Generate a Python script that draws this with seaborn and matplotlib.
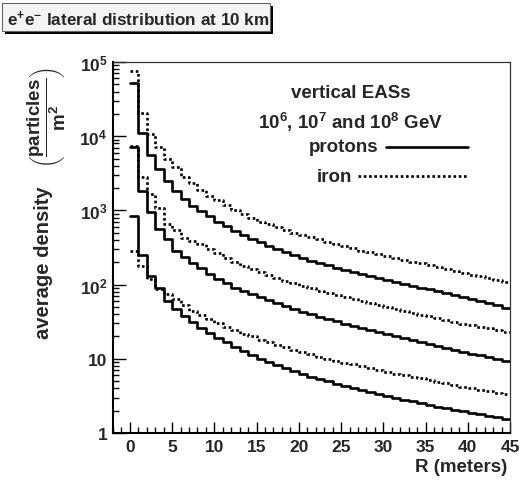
import numpy as np
import matplotlib
matplotlib.use("Agg")
import matplotlib.pyplot as plt
import seaborn as sns
from matplotlib.patches import Rectangle
from matplotlib.lines import Line2D
from matplotlib.ticker import MultipleLocator, FixedLocator, LogLocator, NullFormatter

# ---------------- data ----------------
r_edges = list(range(0, 46))  # 1 m bins, 0..45 m

proton_1e8 = [51600, 11000, 5620, 3630, 2455, 1820, 1413, 1148, 977, 832,
              708, 617, 525, 468, 417, 372, 331, 302, 275, 251,
              229, 209, 195, 182, 170, 158, 148, 138, 129, 122,
              115, 108, 102, 96.6, 91.2, 86.1, 81.3, 76.7, 72.4, 68.4,
              64.6, 61.0, 57.0, 53.0, 49.0]
iron_1e8 = [75000, 20400, 10700, 7080, 4900, 3800, 2820, 2340, 1905, 1585,
            1380, 1175, 1023, 891, 794, 708, 646, 589, 537, 501,
            468, 437, 407, 380, 355, 331, 309, 288, 272, 257,
            243, 229, 216, 204, 193, 182, 172, 162, 153, 145,
            136, 129, 122, 115, 108]
proton_1e7 = [7160, 1800, 944, 562, 412, 288, 237, 197, 168, 141,
              120, 105, 91.2, 81.3, 74.1, 67.6, 61.7, 56.2, 51.3, 46.8,
              43.2, 39.8, 36.7, 34.3, 32.0, 29.9, 27.9, 26.0, 24.5, 22.9,
              21.4, 20.0, 18.8, 17.8, 16.8, 15.7, 14.8, 14.0, 13.2, 12.4,
              11.7, 11.1, 10.5, 9.9, 9.4]
iron_1e7 = [7410, 2790, 1660, 1070, 661, 537, 427, 385, 355, 302,
            263, 229, 200, 178, 162, 148, 135, 123, 112, 105,
            96.6, 89.1, 83.2, 77.6, 72.4, 67.6, 63.1, 59.6, 56.2, 52.5,
            49.5, 46.8, 44.2, 41.7, 39.4, 37.2, 35.1, 33.1, 31.6, 29.9,
            28.2, 26.9, 25.7, 24.3, 23.2]
proton_1e6 = [851, 254, 132, 89.1, 61.0, 46.8, 38.0, 30.9, 26.3, 22.4,
              19.1, 16.6, 14.5, 12.6, 11.2, 10.0, 9.02, 8.13, 7.41, 6.76,
              6.24, 5.75, 5.31, 4.95, 4.62, 4.32, 4.03, 3.80, 3.55, 3.35,
              3.16, 2.99, 2.82, 2.66, 2.51, 2.40, 2.26, 2.16, 2.04, 1.95,
              1.86, 1.78, 1.70, 1.62, 1.55]
iron_1e6 = [282, 180, 120, 87.1, 74.1, 63.1, 52.5, 44.7, 38.9, 33.9,
            30.2, 26.9, 24.3, 21.9, 20.0, 18.2, 16.8, 15.5, 14.3, 13.2,
            12.3, 11.5, 10.7, 10.0, 9.44, 8.91, 8.41, 7.94, 7.50, 7.08,
            6.68, 6.31, 6.03, 5.69, 5.43, 5.13, 4.90, 4.68, 4.42, 4.22,
            4.03, 3.85, 3.67, 3.51, 3.35]

x_ticks = [0, 5, 10, 15, 20, 25, 30, 35, 40, 45]
y_ticks = [1, 10, 100, 1000, 10000, 100000]
y_tick_labels = ["1", "10", "$10^{2}$", "$10^{3}$", "$10^{4}$", "$10^{5}$"]

# ---------------- style ----------------
sns.set_style("ticks")
plt.rcParams.update({
    "font.family": ["Liberation Sans", "DejaVu Sans"],
    "font.weight": "bold",
    "mathtext.fontset": "custom",
    "mathtext.rm": "Liberation Sans:bold",
    "mathtext.bf": "Liberation Sans:bold",
    "mathtext.it": "Liberation Sans:bold",
    "mathtext.sf": "Liberation Sans:bold",
    "axes.unicode_minus": False,
})

W, H = 525, 489
fig = plt.figure(figsize=(W / 100, H / 100), dpi=100)
fig.patch.set_facecolor("white")

def fx(px):
    return px / W

def fy(py):
    return 1 - py / H

ax = fig.add_axes([fx(113), fy(434), fx(510) - fx(113), fy(63) - fy(434)])
ax.set_yscale("log")

centers = np.array(r_edges[:-1]) + 0.5
series = [
    (proton_1e8, "-"), (iron_1e8, (0, (1, 1))),
    (proton_1e7, "-"), (iron_1e7, (0, (1, 1))),
    (proton_1e6, "-"), (iron_1e6, (0, (1, 1))),
]
for vals, ls in series:
    sns.histplot(x=centers, weights=vals, bins=r_edges, element="step",
                 fill=False, color="black", linewidth=1.9 if ls == "-" else 1.9,
                 linestyle=ls, ax=ax)

ax.set_xlim(-2, 45)
ax.set_ylim(1, 1e5)
ax.set_ylabel("")
ax.set_xticks(x_ticks)
ax.set_xticklabels([str(t) for t in x_ticks], fontsize=12.5, fontweight="bold")
ax.xaxis.set_minor_locator(MultipleLocator(1))
ax.yaxis.set_major_locator(FixedLocator(y_ticks))
ax.set_yticklabels(y_tick_labels, fontsize=12.5, fontweight="bold")
ax.yaxis.set_minor_locator(LogLocator(base=10, subs=np.arange(2, 10)))
ax.yaxis.set_minor_formatter(NullFormatter())
ax.tick_params(axis="both", which="both", direction="in", top=False, right=False,
               color="black", width=1.0)
ax.tick_params(axis="x", which="major", length=8, pad=4)
ax.tick_params(axis="x", which="minor", length=4)
ax.tick_params(axis="y", which="major", length=9, pad=4)
ax.tick_params(axis="y", which="minor", length=4.5)

for side in ["left", "bottom"]:
    ax.spines[side].set_linewidth(1.5)
    ax.spines[side].set_color("black")
for side in ["top", "right"]:
    ax.spines[side].set_linewidth(0.9)
    ax.spines[side].set_color("#333333")
    ax.spines[side].set_visible(True)

ax.set_xlabel("R (meters)", fontsize=13.5, fontweight="bold", ha="right", va="center")
ax.xaxis.set_label_coords((507 - 113) / 397, (434 - 468) / 371)

# y-axis title: "average density" + (particles / m^2)
fig.text(fx(44), fy(186), "average density", rotation=90, ha="center", va="top",
         fontsize=14.5, fontweight="bold")
fig.text(fx(47), fy(117), r"$\left(\dfrac{particles}{m^{2}}\right)$",
         rotation=90, ha="center", va="center", fontsize=13.5, fontweight="bold")

# in-plot annotations (legend)
fig.text(fx(351), fy(93), "vertical EASs", ha="center", va="center",
         fontsize=13.5, fontweight="bold")
fig.text(fx(351), fy(122), "$10^{6}$, $10^{7}$ and $10^{8}$ GeV", ha="center",
         va="center", fontsize=13.5, fontweight="bold")
fig.text(fx(378), fy(148), "protons", ha="right", va="center",
         fontsize=13.5, fontweight="bold")
fig.text(fx(352), fy(177), "iron", ha="right", va="center",
         fontsize=13.5, fontweight="bold")
fig.add_artist(Line2D([fx(386), fx(468)], [fy(148), fy(148)], color="black",
                      lw=1.9, transform=fig.transFigure))
fig.add_artist(Line2D([fx(358), fx(468)], [fy(177), fy(177)], color="black",
                      lw=1.9, linestyle=(0, (1, 1)), transform=fig.transFigure))

# title box with shadow
fig.add_artist(Rectangle((fx(5), fy(35)), fx(273) - fx(5), fy(7) - fy(35),
                         transform=fig.transFigure, facecolor="black",
                         edgecolor="none"))
fig.add_artist(Rectangle((fx(2), fy(32)), fx(270) - fx(2), fy(4) - fy(32),
                         transform=fig.transFigure, facecolor="#f4f4f4",
                         edgecolor="#666666", linewidth=0.8))
fig.text(fx(7), fy(19), r"e$^{+}$e$^{-}$ lateral distribution at 10 km",
         ha="left", va="center", fontsize=12.3, fontweight="bold")

fig.savefig("out.png", dpi=100, facecolor="white")
